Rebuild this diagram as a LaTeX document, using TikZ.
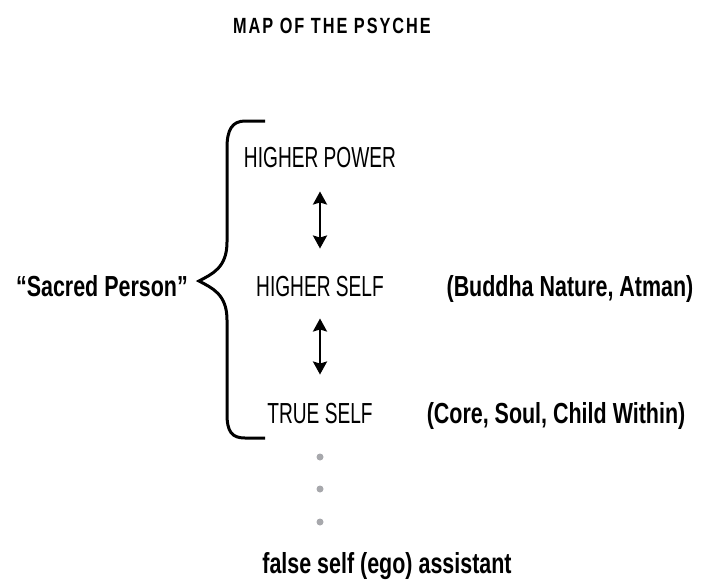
\documentclass[tikz,border=0pt]{standalone}
\usepackage{fontspec}
\setmainfont{Liberation Sans}[FakeStretch=0.66,BoldFeatures={FakeStretch=0.74}]
\newfontfamily\titlefont{Liberation Sans}[FakeStretch=0.74,LetterSpace=9]
\usetikzlibrary{arrows.meta}
\definecolor{dotgray}{HTML}{A7A8AC}

\begin{document}
\begin{tikzpicture}[x=1pt,y=-1pt,
  level/.style={inner sep=0pt,anchor=base,font=\fontsize{29}{34}\selectfont},
  remark/.style={inner sep=0pt,anchor=base,font=\fontsize{29}{34}\selectfont\bfseries},
  link/.style={line width=2.4pt,{Stealth[length=13pt,width=14pt,inset=2pt]}-{Stealth[length=13pt,width=14pt,inset=2pt]}},
  dot/.style={circle,fill=dotgray,inner sep=0pt,minimum size=7pt}]
\useasboundingbox (0,0) rectangle (702,581);

\node[inner sep=0pt,anchor=base,font=\titlefont\bfseries\fontsize{22}{26}\selectfont] (title) at (332,33) {MAP OF THE PSYCHE};

\node[level] (power) at (320,167) {HIGHER POWER};
\node[level] (higher) at (320,296) {HIGHER SELF};
\node[level] (true) at (320,423) {TRUE SELF};

\node[remark] (buddha) at (570,296) {(Buddha Nature, Atman)};
\node[remark] (core) at (556,423) {(Core, Soul, Child Within)};
\node[remark,anchor=base east] (sacred) at (188,296) {“Sacred Person”};

\node[dot] (d1) at (320,457) {};
\node[dot] (d2) at (320,489) {};
\node[dot] (d3) at (320,522) {};

\node[remark] (ego) at (387,573) {false self (ego) assistant};

\draw[link,shorten <=24pt,shorten >=27pt] (power.south) -- (higher.north);
\draw[link,shorten <=22pt,shorten >=28pt] (higher.south) -- (true.north);

\draw[line width=3pt] (265,121) -- (245,121) .. controls (232,121) and (227,130) .. (227,148)
  -- (227,242) .. controls (227,268) and (212,274) .. (199,281)
  .. controls (212,288) and (227,294) .. (227,320)
  -- (227,414) .. controls (227,432) and (232,438) .. (245,438) -- (265,438);
\end{tikzpicture}
\end{document}
